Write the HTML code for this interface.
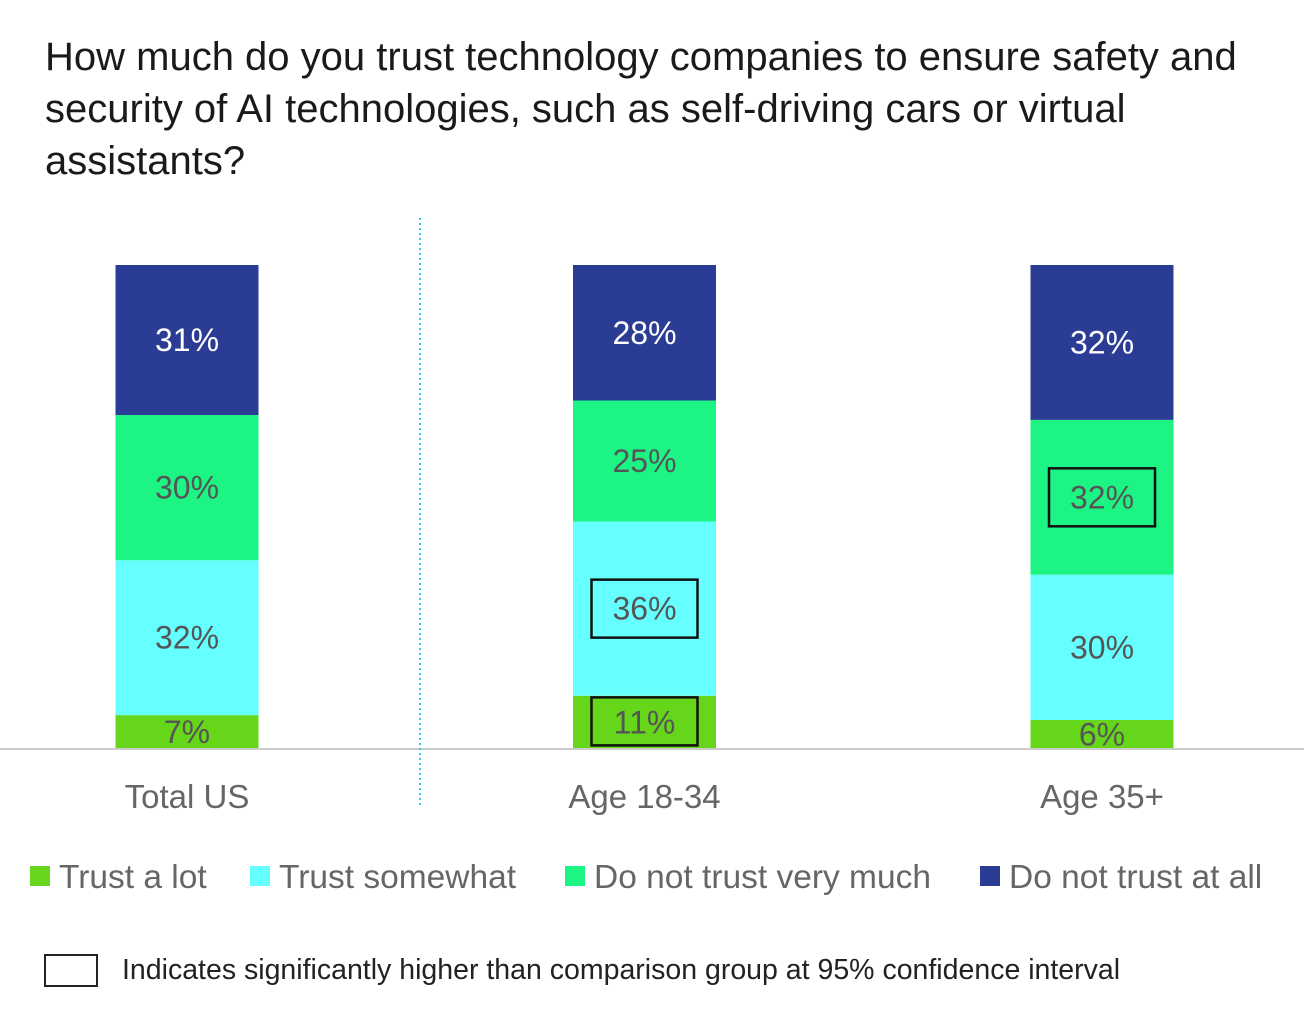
<!DOCTYPE html>
<html><head><meta charset="utf-8"><style>
body{margin:0;background:#fff;width:1304px;height:1030px;overflow:hidden;font-family:"Liberation Sans",sans-serif;}
#title{position:absolute;left:45px;top:31px;font-size:40px;line-height:52px;color:#1a1a1a;width:1259px;white-space:nowrap;}
svg{position:absolute;left:0;top:0;}
</style></head><body>
<div id="title">How much do you trust technology companies to ensure safety and<br>security of AI technologies, such as self-driving cars or virtual<br>assistants?</div>
<svg id="chart" width="1304" height="1030"></svg>
<script>
const categories=["Total US","Age 18-34","Age 35+"];
const seriesNames=["Trust a lot","Trust somewhat","Do not trust very much","Do not trust at all"];
const trustALot=[7,11,6];
const trustSomewhat=[32,36,30];
const notVeryMuch=[30,25,32];
const notAtAll=[31,28,32];
const significant=[[false,false,false,false],[true,true,false,false],[false,false,true,false]];
const colors=["#66d61a","#66ffff","#1cf584","#2b3c94"];
const series=[trustALot,trustSomewhat,notVeryMuch,notAtAll];
const NS="http://www.w3.org/2000/svg";
const svg=document.getElementById('chart');
const baseY=749,plotH=484,barW=143;
const xCenters=[187,644.5,1102];
const y=v=>baseY-v/100*plotH;
function mk(t,a){const e=document.createElementNS(NS,t);for(const k in a)e.setAttribute(k,a[k]);svg.appendChild(e);return e;}
categories.forEach((c,i)=>{
  let cum=0;
  series.forEach((s,j)=>{
    const v=s[i];const y0=y(cum),y1=y(cum+v);
    const r=mk('rect',{x:xCenters[i]-barW/2,y:y1,width:barW,height:y0-y1,fill:colors[j]});
    
    
    const ty=Math.min((y0+y1)/2+11,y0-3);
    const t=mk('text',{x:xCenters[i],y:ty,'text-anchor':'middle','font-size':32,fill:j==3?'#fff':'#555'});
    t.textContent=v+'%';
    
    
    if(significant[i][j]){
      const bh=j==0?48:58;const cy=j==0?(y0+y1)/2-1:(y0+y1)/2;
      const b=mk('rect',{x:xCenters[i]-53,y:cy-bh/2,width:106,height:bh,fill:'none',stroke:'#111','stroke-width':2.5});
      
      
    }
    cum+=v;
  });
  const l=mk('text',{x:xCenters[i],y:808,'text-anchor':'middle','font-size':33,fill:'#666'});
  l.textContent=c;
  
  
});
const ax=mk('line',{x1:0,x2:1304,y1:baseY,y2:baseY,stroke:'#ccc','stroke-width':2});


const dv=mk('line',{x1:420,x2:420,y1:218,y2:806,stroke:'#3cc8e8','stroke-width':2,'stroke-dasharray':'2,3'});


const legX=[30,250,565,980];
seriesNames.forEach((n,j)=>{
  const s=mk('rect',{x:legX[j],y:866,width:20,height:20,fill:colors[j]});
  
  
  const t=mk('text',{x:legX[j]+29,y:888,'font-size':33.5,fill:'#666'});
  t.textContent=n;
  
  
});
const fb=mk('rect',{x:45,y:955,width:52,height:31,fill:'none',stroke:'#222','stroke-width':2});


const ft=mk('text',{x:122,y:979,'font-size':28.5,fill:'#222'});
ft.textContent='Indicates significantly higher than comparison group at 95% confidence interval';


</script>
</body></html>
